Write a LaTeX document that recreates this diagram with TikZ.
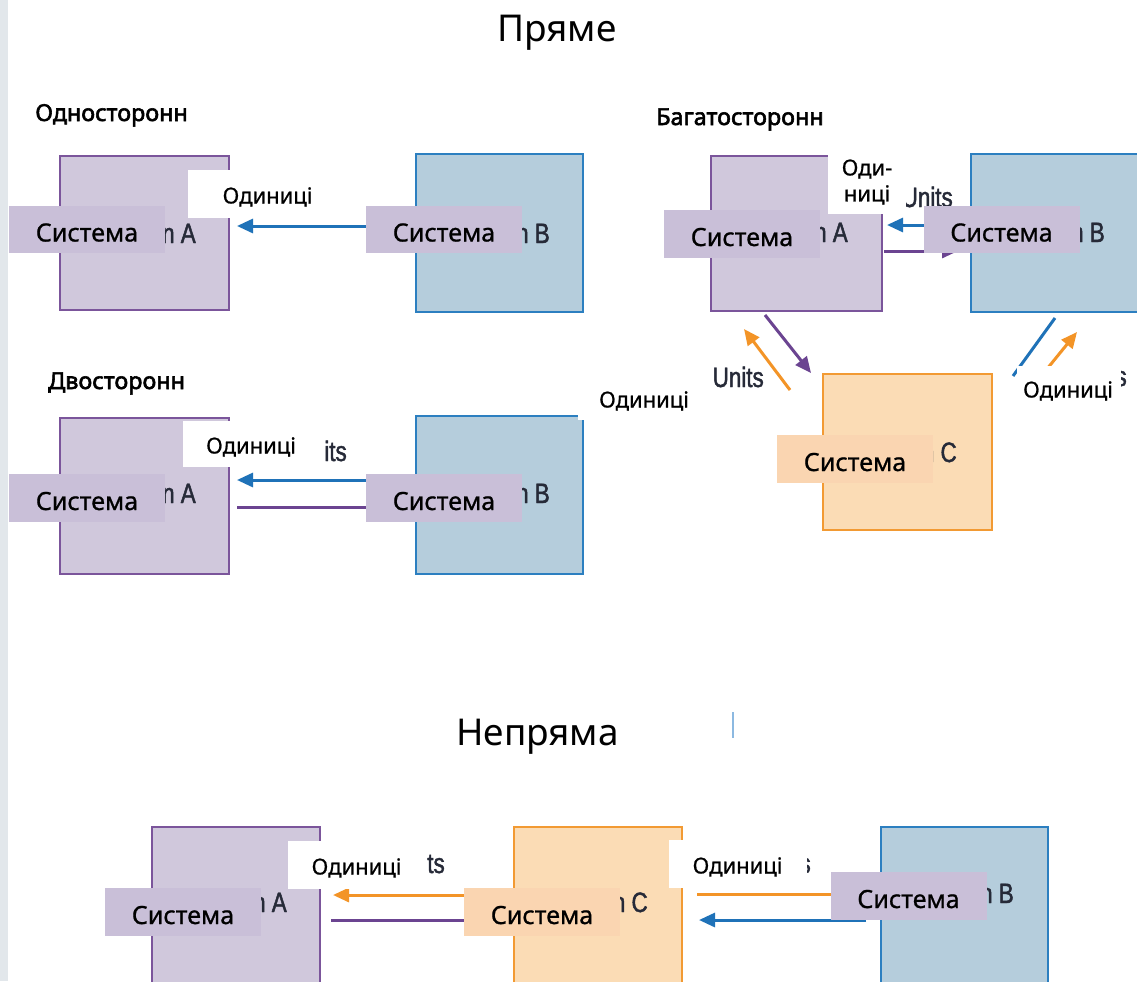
\documentclass[tikz,border=0pt]{standalone}
\usepackage{fontspec}
\setmainfont{Noto Sans}
\newfontface\sysfont{Noto Sans}[FakeBold=0.8]
\newfontface\headfont{Noto Sans}[FakeBold=2.4]
\newfontfamily\fragfont[FakeStretch=0.8,FakeBold=1.6]{Liberation Sans}
\usetikzlibrary{arrows.meta}

\definecolor{sysApurple}{RGB}{123,85,155}
\definecolor{sysAfill}{RGB}{208,200,220}
\definecolor{sysBblue}{RGB}{44,127,192}
\definecolor{sysBfill}{RGB}{181,205,220}
\definecolor{sysCorange}{RGB}{242,154,51}
\definecolor{sysCfill}{RGB}{251,220,181}
\definecolor{lblpurple}{RGB}{201,191,216}
\definecolor{lblpeach}{RGB}{250,213,177}
\definecolor{arrblue}{RGB}{31,114,184}
\definecolor{arrpurple}{RGB}{107,68,145}
\definecolor{arrorange}{RGB}{243,148,39}
\definecolor{fragtext}{RGB}{38,42,56}
\definecolor{sidebar}{RGB}{226,231,235}
\definecolor{markblue}{RGB}{140,185,225}

\begin{document}
\begin{tikzpicture}[x=0.75pt,y=0.75pt,yscale=-1,xscale=1,
  boxA/.style={draw=sysApurple,fill=sysAfill,line width=1.5pt},
  boxB/.style={draw=sysBblue,fill=sysBfill,line width=1.5pt},
  boxC/.style={draw=sysCorange,fill=sysCfill,line width=1.5pt},
  sysLbl/.style={inner sep=0pt,minimum width=117pt,minimum height=35.5pt,text height=18pt,text depth=0pt,font=\sysfont\fontsize{18.8}{22}\selectfont},
  lblA/.style={sysLbl,fill=lblpurple},
  lblC/.style={sysLbl,fill=lblpeach},
  unitsLbl/.style={fill=white,inner sep=0pt,text height=14.25pt,text depth=0pt,font=\sysfont\fontsize{16.5}{19}\selectfont},
  frag/.style={anchor=base east,inner sep=0pt,text=fragtext,font=\fragfont\fontsize{21}{24}\selectfont},
  flow/.style={line width=2.25pt,-{Triangle[length=12pt,width=10.5pt]}},
  plainflow/.style={line width=2.25pt},
  heading/.style={anchor=base west,inner sep=0pt,font=\headfont\fontsize{17.5}{20}\selectfont},
  title/.style={anchor=base,inner sep=0pt,font=\fontsize{27.7}{32}\selectfont}]
\useasboundingbox (0,0) rectangle (1137,981);
\clip (0,0) rectangle (1137,981);
\fill[white] (0,0) rectangle (1137,981);
%Shape: Rectangle (side bar)
\fill[sidebar] (0,0) rectangle (7.5,981);

% Text Node
\node[title] (ttlDirect) at (557,41) {Пряме};
% Text Node
\node[title] (ttlIndirect) at (537.5,745) {Непряма};

%%%% one-way
% Text Node
\node[heading] (hdOneWay) at (35,121) {Односторонн};
%Shape: Rectangle
\draw[boxA] (60,156) rectangle (229,310);
%Shape: Rectangle
\draw[boxB] (416,154) rectangle (583,312);
\coordinate (owTail) at (410,226);
\coordinate (owTip) at (237,226);
%Straight Lines
\draw[flow,arrblue] (owTail) -- (owTip);
\node[frag] (owFragA) at (196,243) {n A};
\node[frag] (owFragB) at (550,243) {n B};
% Text Node
\node[unitsLbl,minimum width=119.25pt,minimum height=36pt] (owUnits) at (267.5,194) {Одиниці};
\node[lblA] (owSysA) at (87,229.5) {Система};
\node[lblA] (owSysB) at (444,229.5) {Система};

%%%% two-way
% Text Node
\node[heading] (hdTwoWay) at (48,389) {Двосторонн};
%Shape: Rectangle
\draw[boxA] (60,418) rectangle (229,574);
%Shape: Rectangle
\draw[boxB] (416,416) rectangle (583,574);
\coordinate (twBTail) at (410,480);
\coordinate (twBTip) at (237,480);
\coordinate (twPTail) at (237,507);
\coordinate (twPTip) at (410,507);
%Straight Lines
\draw[flow,arrblue] (twBTail) -- (twBTip);
\draw[flow,arrpurple] (twPTail) -- (twPTip);
\node[frag] (twFragU) at (347,461) {its};
\node[frag] (twFragA) at (196,503) {n A};
\node[frag] (twFragB) at (550,503) {n B};
% Text Node
\node[unitsLbl,minimum width=102pt,minimum height=34.5pt] (twUnits) at (251,444) {Одиниці};
\node[lblA] (twSysA) at (87,498) {Система};
\node[lblA] (twSysB) at (444,498) {Система};

%%%% multi-way
% Text Node
\node[heading] (hdMultiWay) at (656,125) {Багатосторонн};
%Shape: Rectangle
\draw[boxA] (711,156) rectangle (882,311);
%Shape: Rectangle
\draw[boxB] (971,154) rectangle (1150,312);
%Shape: Rectangle
\draw[boxC] (823,374) rectangle (992,530);
\coordinate (mwBATail) at (965,225);
\coordinate (mwBATip) at (887,225);
\coordinate (mwABTail) at (884,251);
\coordinate (mwABTip) at (958,251);
\coordinate (mwACTail) at (765,315);
\coordinate (mwACTip) at (811,373);
\coordinate (mwCATail) at (790,390);
\coordinate (mwCATip) at (744,329);
\coordinate (mwBCTail) at (1055,318);
\coordinate (mwBCEnd) at (1013,376);
\coordinate (mwCBTail) at (1038,380);
\coordinate (mwCBTip) at (1077,332);
%Straight Lines
\draw[flow,arrblue] (mwBATail) -- (mwBATip);
\draw[flow,arrpurple] (mwABTail) -- (mwABTip);
\draw[flow,arrpurple] (mwACTail) -- (mwACTip);
\draw[flow,arrorange] (mwCATail) -- (mwCATip);
\draw[plainflow,arrblue] (mwBCTail) -- (mwBCEnd);
\draw[flow,arrorange] (mwCBTail) -- (mwCBTip);
\node[frag] (mwFragU1) at (953,207) {Units};
\node[frag] (mwFragU2) at (764,387) {Units};
\begin{scope}
\clip (1121,365) rectangle (1127,390);
\node[frag] (mwFragU3) at (1127,386) {s};
\end{scope}
\node[frag] (mwFragA) at (848,242) {n A};
\node[frag] (mwFragB) at (1105,242) {n B};
\node[frag] (mwFragC) at (957,462) {n C};
% Text Node
\node[fill=white,inner sep=0pt,minimum width=58.5pt,minimum height=48pt,align=center,font=\sysfont\fontsize{16.5}{19.5}\selectfont] (mwUnitsAB) at (867,182) {Оди-\\ниці};
\node[unitsLbl,minimum width=99pt,minimum height=33pt] (mwUnitsAC) at (644,398) {Одиниці};
\node[unitsLbl,minimum width=76.5pt,minimum height=33pt] (mwUnitsBC) at (1068,388) {Одиниці};
\node[lblA] (mwSysA) at (742,234) {Система};
\node[lblA] (mwSysB) at (1001.5,229.5) {Система};
\node[lblC] (mwSysC) at (855,459) {Система};

%%%% indirect
%Shape: Rectangle
\draw[boxA] (152,827) rectangle (320,995);
%Shape: Rectangle
\draw[boxC] (514,827) rectangle (682,995);
%Shape: Rectangle
\draw[boxB] (881,827) rectangle (1048,995);
\coordinate (inCATail) at (508,895);
\coordinate (inCATip) at (333,895);
\coordinate (inACTail) at (331,920);
\coordinate (inACTip) at (508,920);
\coordinate (inCBTail) at (697,894);
\coordinate (inCBTip) at (875,894);
\coordinate (inBCTail) at (866,920);
\coordinate (inBCTip) at (699,920);
%Straight Lines
\draw[flow,arrorange] (inCATail) -- (inCATip);
\draw[flow,arrpurple] (inACTail) -- (inACTip);
\draw[flow,arrorange] (inCBTail) -- (inCBTip);
\draw[flow,arrblue] (inBCTail) -- (inBCTip);
\draw[line width=0.8pt,markblue] (733,712) -- (733,738);
\node[frag] (inFragU1) at (445,873) {ts};
\begin{scope}
\clip (806.5,852) rectangle (811,876);
\node[frag] (inFragU2) at (811,873) {s};
\end{scope}
\node[frag] (inFragA) at (287,912) {n A};
\node[frag] (inFragC) at (648,912) {n C};
\node[frag] (inFragB) at (1014,903) {n B};
% Text Node
\node[unitsLbl,minimum width=103.5pt,minimum height=36pt] (inUnitsCA) at (356.5,865) {Одиниці};
\node[unitsLbl,minimum width=103.5pt,minimum height=36pt] (inUnitsCB) at (737.5,864) {Одиниці};
\node[lblA] (inSysA) at (183,912) {Система};
\node[lblC] (inSysC) at (542,912) {Система};
\node[lblA] (inSysB) at (908.5,896) {Система};

\end{tikzpicture}
\end{document}
